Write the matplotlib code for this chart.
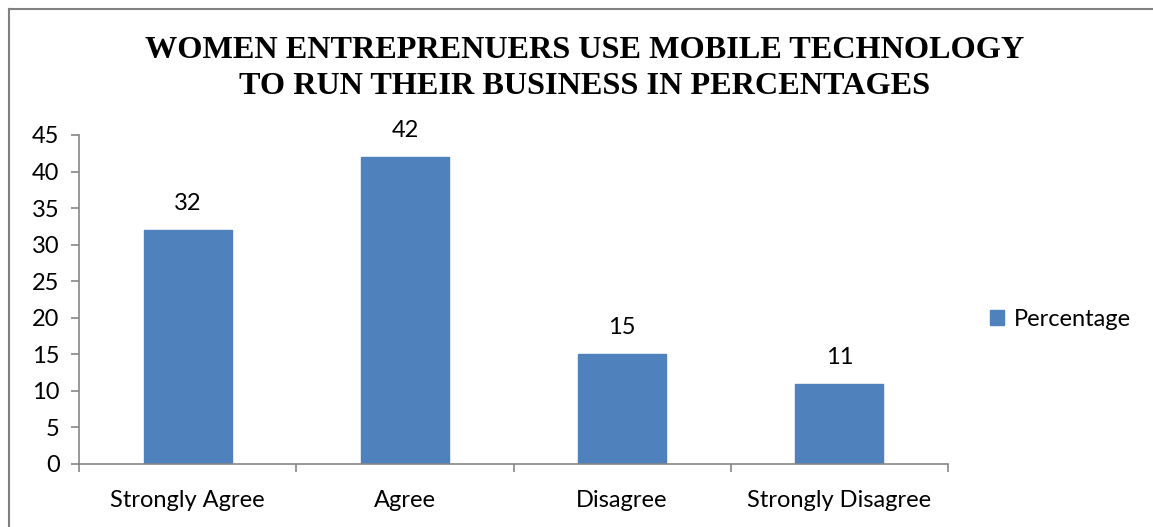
import matplotlib.pyplot as plt
from matplotlib.lines import Line2D
from matplotlib.patches import Patch

categories = ['Strongly Agree', 'Agree', 'Disagree', 'Strongly Disagree']
percentages = [32, 42, 15, 11]
y_ticks = [0, 5, 10, 15, 20, 25, 30, 35, 40, 45]

bar_color = '#4F81BD'
axis_color = '#868686'
label_font = ['Lato', 'DejaVu Sans']
title_font = ['Liberation Serif', 'DejaVu Serif']
fs = 17

W, H = 1153, 527
fig = plt.figure(figsize=(W / 100, H / 100), dpi=100)

# plot area in pixel terms
x0, x1 = 79, 948
y_top, y_bot = 135, 464
ax = fig.add_axes([x0 / W, (H - y_bot) / H, (x1 - x0) / W, (y_bot - y_top) / H])

xs = range(len(categories))
bars = ax.bar(xs, percentages, width=0.405, color=bar_color, edgecolor=bar_color,
              label='Percentage')
for x, v in zip(xs, percentages):
    ax.annotate(str(v), (x, v), xytext=(0, 19), textcoords='offset points',
                ha='center', va='center', fontsize=fs, family=label_font)

ax.set_xlim(-0.5, len(categories) - 0.5)
ax.set_ylim(0, 45)
ax.set_yticks(y_ticks)
ax.set_yticklabels([str(t) for t in y_ticks], fontsize=fs, family=label_font)

# category labels centred, tick marks on the category boundaries
ax.set_xticks([i - 0.5 for i in range(len(categories) + 1)])
ax.set_xticklabels([''] * (len(categories) + 1))
ax.set_xticks(list(xs), minor=True)
ax.set_xticklabels(categories, minor=True, fontsize=fs, family=label_font)
ax.tick_params(axis='x', which='minor', length=0, pad=19)
ax.tick_params(axis='both', which='major', length=6, width=1.2, color=axis_color)
ax.tick_params(axis='y', pad=8)

for side in ['top', 'right']:
    ax.spines[side].set_visible(False)
for side in ['left', 'bottom']:
    ax.spines[side].set_color(axis_color)
    ax.spines[side].set_linewidth(1.2)

fig.text(585 / W, 1 - 50 / H, 'WOMEN ENTREPRENUERS USE MOBILE TECHNOLOGY',
         ha='center', va='center', fontsize=23.2, fontweight='bold', family=title_font)
fig.text(585 / W, 1 - 87 / H, 'TO RUN THEIR BUSINESS IN PERCENTAGES',
         ha='center', va='center', fontsize=23.2, fontweight='bold', family=title_font)

handle = Patch(facecolor=bar_color, edgecolor=bar_color)
fig.legend([handle], ['Percentage'], loc='center left',
           bbox_to_anchor=(990 / W, 1 - 319 / H), frameon=False,
           borderpad=0, borderaxespad=0,
           prop={'family': label_font, 'size': fs},
           handlelength=0.6, handleheight=0.6, handletextpad=0.4)

# chart frame
fig.add_artist(Line2D([9 / W, 9 / W], [0, 1 - 9 / H], color='#808080', lw=1.5,
                      transform=fig.transFigure))
fig.add_artist(Line2D([9 / W, 1], [1 - 9 / H, 1 - 9 / H], color='#808080', lw=1.5,
                      transform=fig.transFigure))

fig.savefig('out.png', dpi=100)
